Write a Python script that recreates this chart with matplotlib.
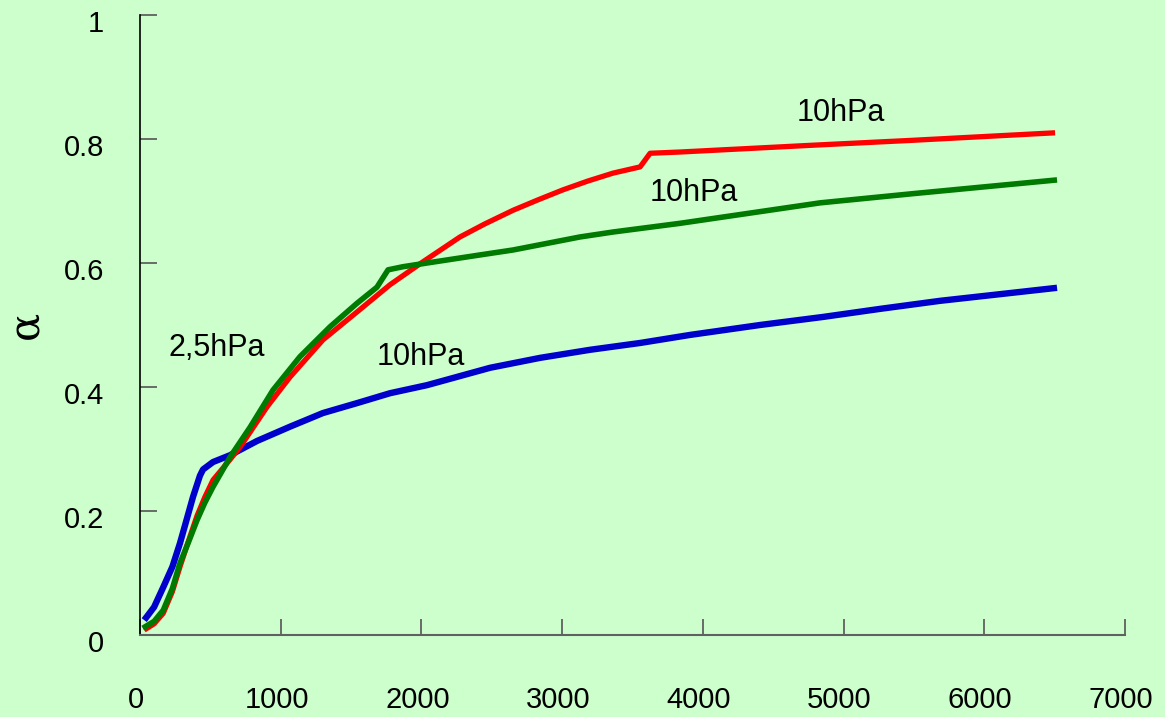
import matplotlib.pyplot as plt
import matplotlib.transforms as mtransforms

# time axis values and alpha readings for each run
blue_t = [30, 100, 165, 230, 284, 330, 377, 426, 448, 519, 640, 832, 1066,
          1300, 1542, 1777, 2040, 2488, 2843, 3198, 3554, 3909, 4406, 4854,
          5259, 5686, 6162, 6517]
blue_a = [0.024, 0.045, 0.077, 0.11, 0.148, 0.185, 0.223, 0.257, 0.267, 0.279,
          0.29, 0.313, 0.336, 0.358, 0.374, 0.39, 0.403, 0.431, 0.447, 0.46,
          0.471, 0.484, 0.50, 0.513, 0.526, 0.539, 0.551, 0.56]

red_t = [30, 100, 165, 230, 284, 345, 405, 460, 519, 640, 711, 903, 1066, 1300,
         1542, 1777, 2011, 2274, 2450, 2651, 2830, 3006, 3180, 3362, 3554, 3625,
         3838, 4783, 5500, 6503]
red_a = [0.008, 0.018, 0.035, 0.07, 0.11, 0.152, 0.192, 0.222, 0.25, 0.283,
         0.303, 0.368, 0.416, 0.476, 0.521, 0.565, 0.602, 0.642, 0.663, 0.685,
         0.702, 0.718, 0.732, 0.745, 0.755, 0.777, 0.779, 0.79, 0.798, 0.81]

green_t = [20, 100, 165, 230, 284, 345, 405, 460, 519, 547, 640, 782, 945, 1137,
           1350, 1542, 1684, 1763, 1869, 2040, 2416, 2651, 3127, 3362, 3838,
           4833, 5500, 6517]
green_a = [0.011, 0.022, 0.04, 0.075, 0.116, 0.15, 0.185, 0.213, 0.239, 0.25,
           0.287, 0.335, 0.395, 0.449, 0.497, 0.535, 0.561, 0.589, 0.594, 0.60,
           0.613, 0.621, 0.642, 0.65, 0.664, 0.697, 0.712, 0.734]

x_ticks = [0, 1000, 2000, 3000, 4000, 5000, 6000, 7000]
y_ticks = [0, 0.2, 0.4, 0.6, 0.8, 1]
y_tick_labels = ["0", "0.2", "0.4", "0.6", "0.8", "1"]

labels = ["2,5hPa", "10hPa", "10hPa", "10hPa"]
label_t = [547, 1997, 3937, 4982]
label_a = [0.463, 0.448, 0.713, 0.842]

bg = "#CCFFCC"
plt.rcParams['font.family'] = ['Liberation Sans', 'DejaVu Sans']

fig = plt.figure(figsize=(11.65, 7.17), dpi=100, facecolor=bg)
ax = fig.add_axes([140 / 1165, 1 - 635 / 717, 985 / 1165, 620 / 717])
ax.set_facecolor(bg)

ax.plot(blue_t, blue_a, color="#0000CC", lw=4.6, solid_capstyle='butt')
ax.plot(red_t, red_a, color="#FF0000", lw=3.8, solid_capstyle='butt')
ax.plot(green_t, green_a, color="#007A00", lw=4.0, solid_capstyle='butt')

for txt, tx, ta in zip(labels, label_t, label_a):
    ax.text(tx, ta, txt, fontsize=22, ha='center', va='center')

ax.set_xlim(0, 7000)
ax.set_ylim(0, 1)
ax.set_xticks(x_ticks)
ax.set_yticks(y_ticks)
ax.set_yticklabels(y_tick_labels)

for s in ['top', 'right']:
    ax.spines[s].set_visible(False)
ax.spines['left'].set_color('black')
ax.spines['left'].set_linewidth(1.2)
ax.spines['bottom'].set_color('#606060')
ax.spines['bottom'].set_linewidth(1.5)

ax.tick_params(axis='y', direction='in', length=12, width=1.3, color='#606060',
               labelsize=21, pad=26)
ax.tick_params(axis='x', direction='in', length=11.5, width=1.3, color='#606060',
               labelsize=21, pad=37)

# tick labels sit a little low / left in the original
dy = mtransforms.ScaledTranslation(0, -6 / 100, fig.dpi_scale_trans)
for lab in ax.get_yticklabels():
    lab.set_transform(lab.get_transform() + dy)
dx = mtransforms.ScaledTranslation(-4 / 100, 0, fig.dpi_scale_trans)
for lab in ax.get_xticklabels():
    lab.set_transform(lab.get_transform() + dx)

ax.set_ylabel("α", fontsize=30, family=['DejaVu Serif'], labelpad=12)

fig.savefig("out.png", dpi=100, facecolor=bg)
